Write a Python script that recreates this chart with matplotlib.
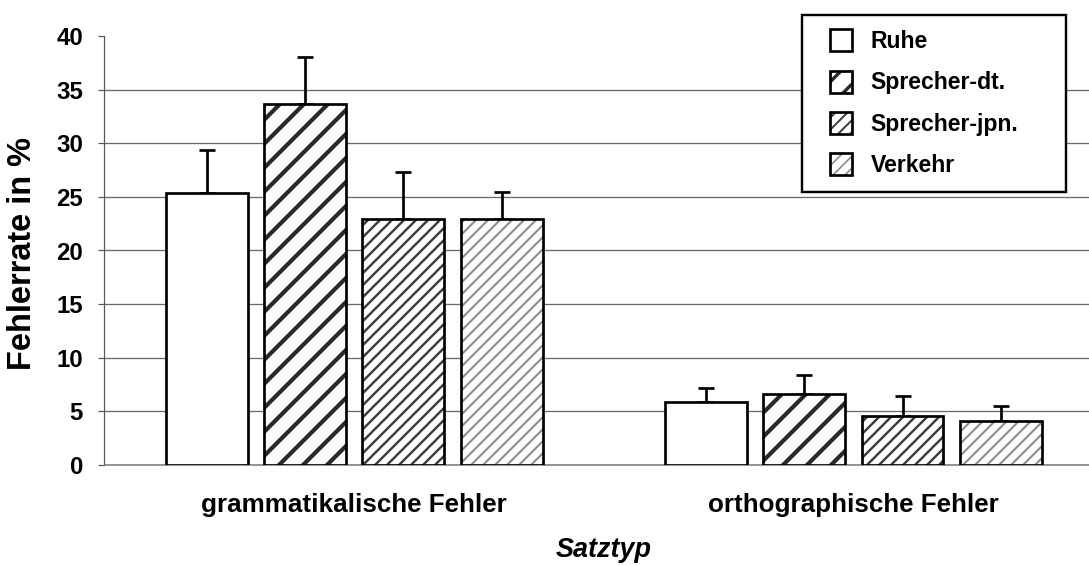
import matplotlib
matplotlib.use("Agg")
import matplotlib.pyplot as plt
import numpy as np
from matplotlib.patches import Patch, Rectangle
from matplotlib.legend_handler import HandlerTuple, HandlerPatch

categories = ["grammatikalische Fehler", "orthographische Fehler"]
series = ["Ruhe", "Sprecher-dt.", "Sprecher-jpn.", "Verkehr"]
means = {
    "Ruhe": [25.4, 5.85],
    "Sprecher-dt.": [33.7, 6.65],
    "Sprecher-jpn.": [22.9, 4.55],
    "Verkehr": [22.9, 4.1],
}
errors = {
    "Ruhe": [4.0, 1.35],
    "Sprecher-dt.": [4.3, 1.7],
    "Sprecher-jpn.": [4.4, 1.9],
    "Verkehr": [2.6, 1.4],
}
yticks = [0, 5, 10, 15, 20, 25, 30, 35, 40]

styles = {
    "Ruhe": dict(hatch="", hc="black", hlw=1.0),
    "Sprecher-dt.": dict(hatch="/", hc="#2a2a2a", hlw=4.2),
    "Sprecher-jpn.": dict(hatch="//", hc="#3a3a3a", hlw=2.4),
    "Verkehr": dict(hatch="//", hc="#8a8a8a", hlw=2.0),
}

plt.rcParams["font.family"] = ["Liberation Sans", "DejaVu Sans"]
plt.rcParams["font.weight"] = "bold"

W, H, DPI = 1089, 566, 72
fig = plt.figure(figsize=(W / DPI, H / DPI), dpi=DPI)
left, right, bottom, top = 104.5, 1103, 465, 36
ax = fig.add_axes([left / W, (H - bottom) / H, (right - left) / W, (bottom - top) / H])


def set_hlw(p, lw):
    if hasattr(p, "set_hatch_linewidth"):
        p.set_hatch_linewidth(lw)


x = np.arange(len(categories))
width = 0.164
step = 0.197
handles = []
for i, s in enumerate(series):
    st = styles[s]
    pos = x + (i - 1.5) * step
    with plt.rc_context({"hatch.linewidth": st["hlw"]}):
        b1 = ax.bar(pos, means[s], width, color="white", edgecolor=st["hc"],
                    linewidth=0, hatch=st["hatch"], zorder=3)
        for p in b1:
            set_hlw(p, st["hlw"])
    ax.bar(pos, means[s], width, fill=False, edgecolor="black", linewidth=2.7, zorder=4)
    ax.errorbar(pos, means[s], yerr=[np.zeros(len(categories)), errors[s]], fmt="none",
                ecolor="black", elinewidth=2.7, capsize=8, capthick=2.7, zorder=2)
    with plt.rc_context({"hatch.linewidth": st["hlw"]}):
        hp = Patch(facecolor="white", edgecolor=st["hc"], linewidth=0, hatch=st["hatch"])
        set_hlw(hp, st["hlw"])
    op = Patch(fill=False, edgecolor="black", linewidth=2.7)
    handles.append((hp, op))

ax.set_xlim(-0.5, 1.5)
ax.set_ylim(0, 40)
ax.set_yticks(yticks)
ax.set_yticklabels([str(t) for t in yticks], fontsize=24, fontweight="bold")
ax.set_xticks(x)
ax.set_xticklabels(categories, fontsize=26, fontweight="bold")
ax.tick_params(axis="x", length=0, pad=28)
ax.tick_params(axis="y", length=6.5, width=1.2, color="#555555", pad=15, direction="out")
ax.yaxis.grid(True, color="#6a6a6a", linewidth=1.3, zorder=0)
ax.set_axisbelow(True)
ax.get_ygridlines()[-1].set_visible(False)
for sp in ["top", "right"]:
    ax.spines[sp].set_visible(False)
ax.spines["left"].set_color("#555555")
ax.spines["left"].set_linewidth(1.2)
ax.spines["bottom"].set_color("#777777")
ax.spines["bottom"].set_linewidth(1.5)

ax.set_ylabel("Fehlerrate in %", fontsize=32.5, fontweight="bold")
ax.yaxis.set_label_coords(-(104.5 - 22.5) / (1103 - 104.5), 0.492)
ax.yaxis.label.set_verticalalignment("center")
ax.set_xlabel("Satztyp", fontsize=27, fontweight="bold", fontstyle="italic", labelpad=20)

SQ = 22.0


def square(legend, orig_handle, xdescent, ydescent, width, height, fontsize):
    return Rectangle((-xdescent + width - SQ, -ydescent + (height - SQ) / 2), SQ, SQ)


FS = 23
leg = ax.legend(handles, series,
                handler_map={tuple: HandlerTuple(ndivide=1, pad=0),
                             Patch: HandlerPatch(patch_func=square)},
                loc="upper left",
                bbox_to_anchor=(801.5 / W, (H - 191.5) / H, 264.5 / W, 176.5 / H),
                bbox_transform=fig.transFigure, mode="expand", borderaxespad=0,
                prop={"weight": "bold", "size": FS},
                handlelength=1.55, handleheight=1.0, handletextpad=0.79,
                labelspacing=0.78, borderpad=0.66, fancybox=False, framealpha=1)
leg.get_frame().set_edgecolor("black")
leg.get_frame().set_linewidth(2.4)
leg.set_zorder(10)
lh = getattr(leg, "legend_handles", None) or getattr(leg, "legendHandles", [])
for h_, s in zip(lh, series):
    set_hlw(h_, styles[s]["hlw"] * 0.8)

fig.savefig("out.png", dpi=DPI)
